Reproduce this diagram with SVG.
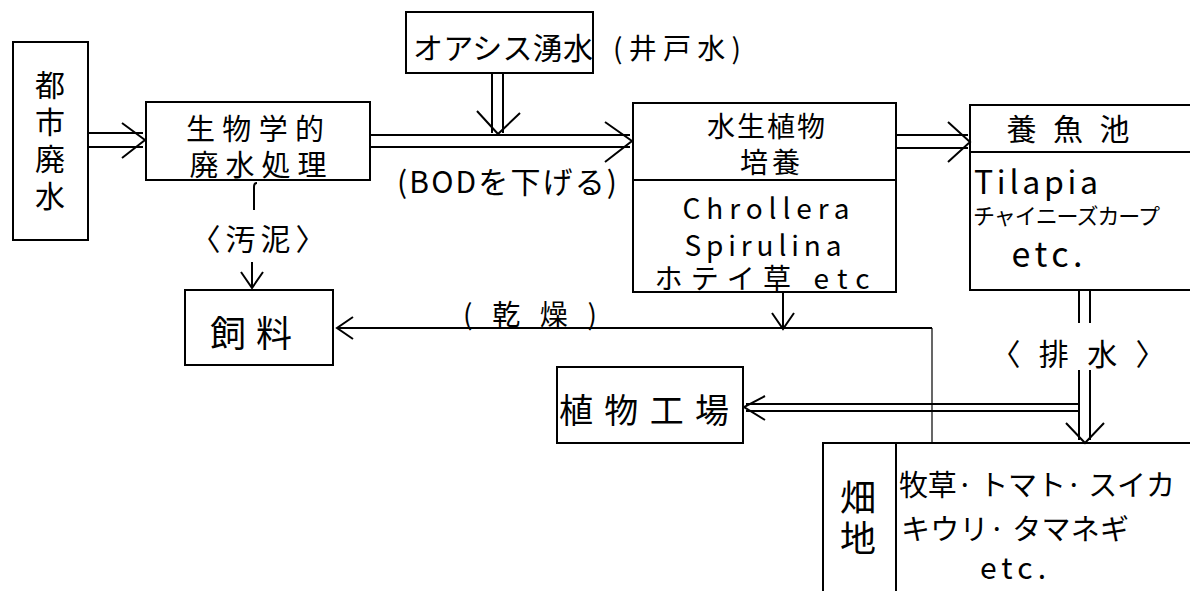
<svg xmlns="http://www.w3.org/2000/svg" width="1190" height="591" viewBox="0 0 1190 591">
<style>
.box{fill:none;stroke:#000;stroke-width:2}
.ln{fill:none;stroke:#000;stroke-width:2}
.thin{fill:none;stroke:#000;stroke-width:1.2}
.hd{fill:none;stroke:#000;stroke-width:2;stroke-linejoin:miter}
.arr{fill:none;stroke:#000;stroke-width:2;marker-end:url(#ah)}
text{font-family:'Noto Sans CJK JP','Noto Sans CJK SC','Liberation Sans',sans-serif;fill:#000;dominant-baseline:central;text-anchor:middle}
.st{text-anchor:start}
.vt{writing-mode:vertical-rl}
</style>
<defs>
<marker id="ah" markerUnits="userSpaceOnUse" markerWidth="20" markerHeight="28" viewBox="0 0 20 28" refX="17" refY="14" orient="auto">
<path d="M1,3 L17,14 L1,25" fill="none" stroke="#000" stroke-width="2"/>
</marker>
</defs>
<rect width="1190" height="591" fill="#fff"/>

<g id="connectors">
<path class="ln" d="M88,133 L143,133 M88,147 L143,147"/>
<path class="hd" d="M122,123 L145,140 L122,158"/>
<path class="ln" d="M370,135 L630,135 M370,147 L630,147"/>
<path class="hd" d="M605,122 L632,141 L605,162"/>
<path class="ln" d="M492,73 L492,133 M503,73 L503,133"/>
<path class="hd" d="M477,111 L498,134 L520,113"/>
<path class="ln" d="M896,135 L968,135 M896,148 L968,148"/>
<path class="hd" d="M948,122 L970,142 L948,162"/>
<path class="ln" d="M1079,290 L1079,323 M1090,290 L1090,323"/>
<path class="ln" d="M1079,370 L1079,440 M1090,370 L1090,440"/>
<path class="hd" d="M1066,423 L1085,443 L1104,423"/>
<path class="ln" d="M1079,404 L746,404 M1079,411 L746,411"/>
<path class="hd" d="M765,396 L744,407 L765,420"/>
<path class="arr" d="M932,328 L337,328"/>
<path class="thin" d="M932,328 L932,443"/>
<path class="arr" d="M783,292 L783,329"/>
<path class="ln" d="M254,210 L254,187 Q254,183 257,183"/>
<path class="arr" d="M252,262 L252,288"/>
</g>

<g id="labels">
<text x="258" y="237" font-size="30" textLength="135">〈汚泥〉</text>
<text x="507" y="180" font-size="30" textLength="220">(BODを下げる)</text>
<text x="530" y="313" font-size="28" textLength="134">(乾燥)</text>
<text x="1078" y="352" font-size="30" textLength="175">〈排水〉</text>
<text x="677" y="47" font-size="28" textLength="128">(井戸水)</text>
</g>

<g id="toshi">
<rect class="box" x="13" y="42" width="75" height="198"/>
<text class="vt" x="50" y="144" font-size="30" letter-spacing="7">都市廃水</text>
</g>

<g id="seibutsu">
<rect class="box" x="146" y="102" width="224" height="78"/>
<text x="255" y="127" font-size="29" textLength="138">生物学的</text>
<text x="258" y="163" font-size="29" textLength="137">廃水処理</text>
</g>

<g id="oasis">
<rect class="box" x="406" y="12" width="187" height="61"/>
<text x="503" y="46" font-size="30" textLength="180">オアシス湧水</text>
</g>

<g id="suisei">
<rect class="box" x="633" y="103" width="263" height="189"/>
<path class="ln" d="M633,180 L896,180"/>
<text x="766" y="125" font-size="28" textLength="118">水生植物</text>
<text x="770" y="161" font-size="28" textLength="60">培養</text>
<text x="766" y="207" font-size="28" textLength="167">Chrollera</text>
<text x="763" y="244" font-size="28" textLength="157">Spirulina</text>
<text x="762" y="277" font-size="28" textLength="215">ホテイ草 etc</text>
</g>

<g id="yougyo">
<rect class="box" x="970" y="105" width="230" height="185"/>
<path class="ln" d="M970,152 L1190,152"/>
<text x="1068" y="127" font-size="30" textLength="123">養魚池</text>
<text class="st" x="974" y="180" font-size="32" textLength="124">Tilapia</text>
<text class="st" x="973" y="214" font-size="22" textLength="187">チャイニーズカープ</text>
<text x="1047" y="252" font-size="34" textLength="71">etc.</text>
</g>

<g id="shiryo">
<rect class="box" x="185" y="290" width="148" height="75"/>
<text x="251" y="331" font-size="36" textLength="82">飼料</text>
</g>

<g id="shokubutsu">
<rect class="box" x="557" y="367" width="186" height="76"/>
<text x="644" y="408" font-size="34" textLength="170">植物工場</text>
</g>

<g id="hatachi">
<rect class="box" x="823" y="443" width="380" height="160"/>
<path class="ln" d="M896,443 L896,591"/>
<text class="vt" x="858" y="520" font-size="36" letter-spacing="5">畑地</text>
<text class="st" x="899" y="483" font-size="29" textLength="276">牧草· トマト· スイカ</text>
<text class="st" x="901" y="527" font-size="29" textLength="228">キウリ· タマネギ</text>
<text x="1013" y="566" font-size="30" textLength="66">etc.</text>
</g>
</svg>
